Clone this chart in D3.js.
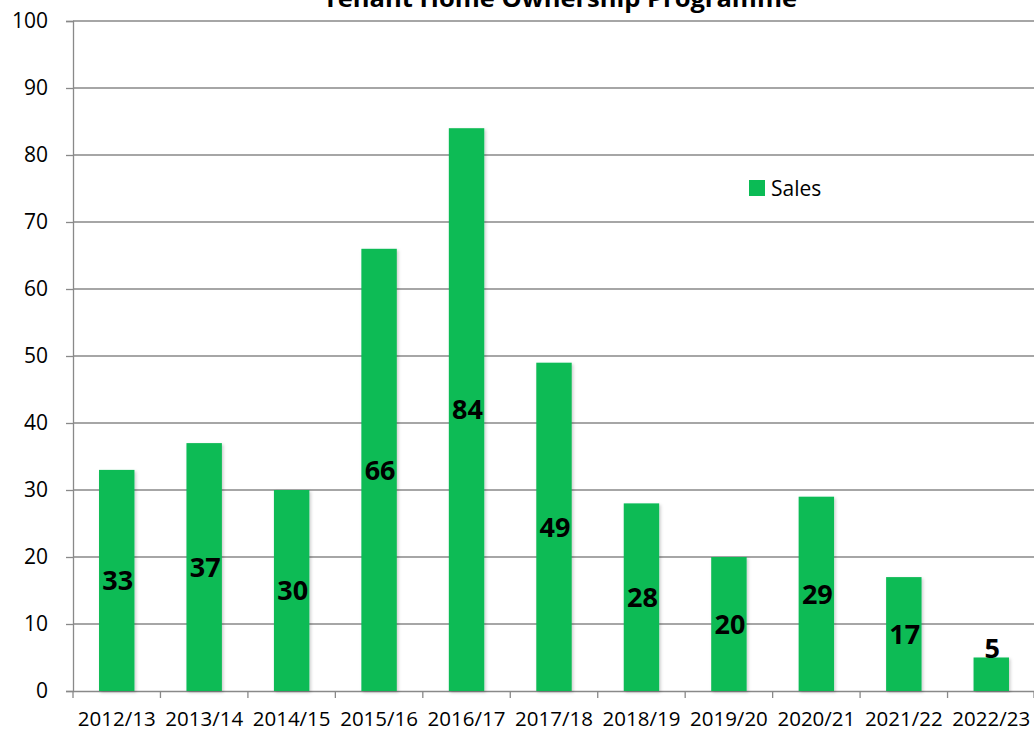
<!DOCTYPE html>
<html>
<head>
<meta charset="utf-8">
<script src="https://cdn.jsdelivr.net/npm/d3@7"></script>
<style>
  body { margin: 0; background: #fff; }
  svg { display: block; font-family: "Open Sans", "Noto Sans", sans-serif; }
</style>
</head>
<body>
<svg width="1034" height="731"></svg>
<script>
// Chart data
const years = ["2012/13", "2013/14", "2014/15", "2015/16", "2016/17", "2017/18",
               "2018/19", "2019/20", "2020/21", "2021/22", "2022/23"];
const sales = [33, 37, 30, 66, 84, 49, 28, 20, 29, 17, 5];
const yTicks = [0, 10, 20, 30, 40, 50, 60, 70, 80, 90, 100];

const svg = d3.select("svg");
const plotLeft = 73, plotRight = 1035, plotTop = 21, plotBottom = 691;
const green = "#0bbb55";
const axisGrey = "#898989";

// Scales
const x = d3.scaleBand().domain(years).range([plotLeft, plotRight]);
const y = d3.scaleLinear().domain([0, 100]).range([plotBottom, plotTop]);

// Soft shadow for bars
const defs = svg.append("defs");
const f = defs.append("filter").attr("id", "shadow").attr("x", "-20%").attr("y", "-5%")
    .attr("width", "140%").attr("height", "110%");
f.append("feDropShadow").attr("dx", 1.5).attr("dy", 1.5).attr("stdDeviation", 1.5)
    .attr("flood-color", "#000").attr("flood-opacity", 0.2);

// Gridlines
svg.append("g").selectAll("line")
    .data(yTicks.filter(d => d > 0))
    .join("line")
    .attr("x1", plotLeft).attr("x2", plotRight)
    .attr("y1", d => y(d)).attr("y2", d => y(d))
    .attr("stroke", axisGrey).attr("stroke-width", 1.3);

// Y axis
const yAxis = svg.append("g")
    .attr("transform", `translate(${plotLeft},0)`)
    .call(d3.axisLeft(y).tickValues(yTicks).tickSize(7).tickPadding(18));
yAxis.select(".domain").attr("stroke", axisGrey).attr("stroke-width", 1.3);
yAxis.selectAll(".tick line").attr("stroke", axisGrey).attr("stroke-width", 1.3);
yAxis.selectAll("text").attr("font-size", 21).attr("fill", "#000")
    .attr("font-family", "Open Sans");

// X axis
const xAxis = svg.append("g")
    .attr("transform", `translate(0,${plotBottom})`)
    .call(d3.axisBottom(x).tickSize(0).tickPadding(20));
xAxis.select(".domain").attr("stroke", axisGrey).attr("stroke-width", 1.3);
xAxis.selectAll("text").attr("font-size", 20.5).attr("fill", "#000")
    .attr("font-family", "Open Sans");
// tick marks between categories
svg.append("g").selectAll("line")
    .data(years.map(d => x(d)).concat([plotRight - 1]))
    .join("line")
    .attr("x1", d => d).attr("x2", d => d)
    .attr("y1", plotBottom).attr("y2", plotBottom + 7)
    .attr("stroke", axisGrey).attr("stroke-width", 1.3);

const rows = years.map((d, i) => ({ year: d, value: sales[i] }));

// Bars
const barW = x.bandwidth() * 0.405;
svg.append("g").selectAll("rect")
    .data(rows)
    .join("rect")
    .attr("x", d => x(d.year) + x.bandwidth() / 2 - barW / 2)
    .attr("y", d => y(d.value))
    .attr("width", barW)
    .attr("height", d => y(0) - y(d.value))
    .attr("fill", green)
    .attr("filter", "url(#shadow)");

// Data labels (centred in bar, above when bar is too short)
svg.append("g").selectAll("text")
    .data(rows)
    .join("text")
    .attr("x", d => x(d.year) + x.bandwidth() / 2 + 1)
    .attr("y", d => {
        const mid = (y(d.value) + y(0)) / 2;
        return d.value < 10 ? y(d.value) - 9 : mid;
    })
    .attr("dy", "0.36em")
    .attr("text-anchor", "middle")
    .attr("font-weight", "bold")
    .attr("font-size", 27)
    .attr("fill", "#000")
    .text(d => d.value);

// Title (partially clipped at top)
svg.append("text")
    .attr("x", 560).attr("y", 7)
    .attr("text-anchor", "middle")
    .attr("font-weight", "bold")
    .attr("font-size", 23)
    .attr("textLength", 474)
    .attr("lengthAdjust", "spacingAndGlyphs")
    .attr("fill", "#000")
    .text("Tenant Home Ownership Programme");

// Legend
const legend = svg.append("g").attr("transform", "translate(749,180)");
legend.append("rect").attr("width", 16).attr("height", 16).attr("fill", green);
legend.append("text").attr("x", 22).attr("y", 8).attr("dy", "0.36em")
    .attr("font-size", 21).attr("fill", "#000").text("Sales");
</script>
</body>
</html>
